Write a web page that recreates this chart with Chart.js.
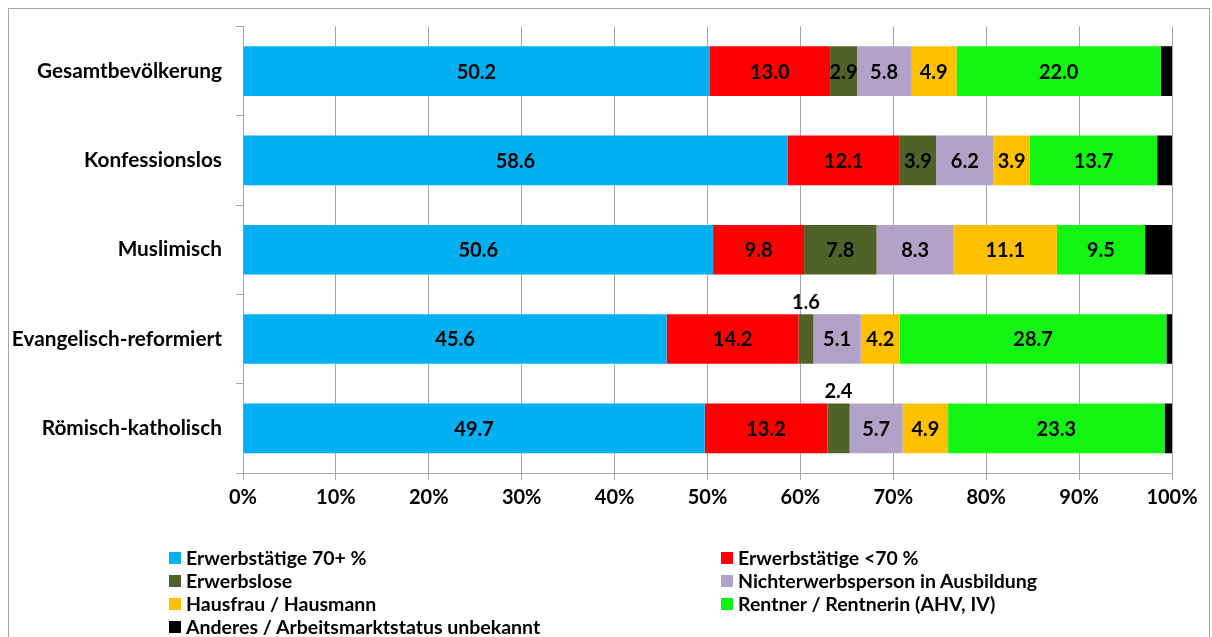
<!DOCTYPE html>
<html>
<head>
<meta charset="utf-8">
<script src="https://cdn.jsdelivr.net/npm/chart.js@4/dist/chart.umd.min.js"></script>
<style>
  html, body { margin: 0; padding: 0; background: #fff; }
  #wrap { position: relative; width: 1212px; height: 637px; overflow: hidden; }
  #frame { position: absolute; left: 8px; top: 8px; width: 1202px; height: 660px; border: 1px solid #a6a6a6; box-sizing: border-box; }
  #chart { position: absolute; left: 0; top: 0; }
  #legend {
    position: absolute; left: 169px; top: 546px;
    display: grid; grid-template-columns: 552px 460px; row-gap: 0;
    font: bold 19.5px Lato, "Open Sans", sans-serif; color: #000;
  }
  #legend .item { display: flex; align-items: center; height: 23px; white-space: nowrap; }
  #legend .box { width: 12px; height: 12px; margin-right: 5px; flex: none; }
</style>
</head>
<body>
<div id="wrap">
  <div id="frame"></div>
  <canvas id="chart" width="1212" height="637"></canvas>
  <div id="legend"></div>
</div>
<script>
const categories = ['Gesamtbevölkerung', 'Konfessionslos', 'Muslimisch', 'Evangelisch-reformiert', 'Römisch-katholisch'];

const seriesNames = [
  'Erwerbstätige 70+ %',
  'Erwerbstätige <70 %',
  'Erwerbslose',
  'Nichterwerbsperson in Ausbildung',
  'Hausfrau / Hausmann',
  'Rentner / Rentnerin (AHV, IV)',
  'Anderes / Arbeitsmarktstatus unbekannt'
];

const erwerb70 = [50.2, 58.6, 50.6, 45.6, 49.7];
const erwerbUnter70 = [13.0, 12.1, 9.8, 14.2, 13.2];
const erwerbslose = [2.9, 3.9, 7.8, 1.6, 2.4];
const ausbildung = [5.8, 6.2, 8.3, 5.1, 5.7];
const hausfrau = [4.9, 3.9, 11.1, 4.2, 4.9];
const rentner = [22.0, 13.7, 9.5, 28.7, 23.3];
const anderes = [1.2, 1.6, 2.9, 0.6, 0.8];

const colors = ['#00b0f0', '#ff0000', '#4f6228', '#b3a2c7', '#ffc000', '#12f512', '#000000'];
const xTicks = [0, 10, 20, 30, 40, 50, 60, 70, 80, 90, 100];

const FONT = 'Lato, "Open Sans", sans-serif';

// value labels: centred in each segment, above the bar when the segment is too narrow
const barLabels = {
  id: 'barLabels',
  afterDatasetsDraw(chart) {
    const ctx = chart.ctx;
    ctx.save();
    ctx.font = 'bold 20px ' + FONT;
    ctx.fillStyle = '#000';
    ctx.textAlign = 'center';
    ctx.textBaseline = 'middle';
    chart.data.datasets.forEach((ds, di) => {
      if (ds.noLabel) return;
      const meta = chart.getDatasetMeta(di);
      meta.data.forEach((bar, i) => {
        const v = ds.data[i];
        const x = (bar.x + bar.base) / 2;
        if (v < 2.5) {
          ctx.fillText(v.toFixed(1), x, bar.y - bar.height / 2 - 12);
        } else {
          ctx.fillText(v.toFixed(1), x, bar.y + 1);
        }
      });
    });
    ctx.restore();
  }
};

const seriesData = [erwerb70, erwerbUnter70, erwerbslose, ausbildung, hausfrau, rentner, anderes];

const chart = new Chart(document.getElementById('chart'), {
  type: 'bar',
  data: {
    labels: categories,
    datasets: seriesData.map((d, i) => ({
      label: seriesNames[i],
      data: d,
      backgroundColor: colors[i],
      borderWidth: 0,
      categoryPercentage: 1,
      barPercentage: 0.556,
      noLabel: i === 6
    }))
  },
  options: {
    indexAxis: 'y',
    responsive: false,
    animation: false,
    layout: { padding: { top: 21, right: 40, left: 0, bottom: 0 } },
    plugins: {
      legend: { display: false },
      tooltip: { enabled: false }
    },
    scales: {
      x: {
        stacked: true,
        min: 0,
        max: 100,
        afterBuildTicks(scale) {
          scale.ticks = xTicks.map(v => ({ value: v }));
        },
        afterFit(scale) { scale.height = 164; },
        grid: { color: '#a6a6a6', lineWidth: 1, tickLength: 7, drawTicks: true },
        border: { color: '#a6a6a6' },
        ticks: {
          padding: 6,
          color: '#000',
          font: { family: FONT, size: 20, weight: 'bold' },
          callback: v => v + '%'
        }
      },
      y: {
        stacked: true,
        afterFit(scale) { scale.width = 243; },
        grid: { drawOnChartArea: false, color: '#a6a6a6', tickLength: 7, offset: true },
        border: { color: '#a6a6a6' },
        ticks: {
          padding: 14,
          color: '#000',
          font: { family: FONT, size: 20.8, weight: 'bold' }
        }
      }
    }
  },
  plugins: [barLabels]
});

// legend in two columns built from the datasets
const legendEl = document.getElementById('legend');
chart.data.datasets.forEach(ds => {
  const item = document.createElement('div');
  item.className = 'item';
  const box = document.createElement('span');
  box.className = 'box';
  box.style.background = ds.backgroundColor;
  const txt = document.createElement('span');
  txt.textContent = ds.label;
  item.appendChild(box);
  item.appendChild(txt);
  legendEl.appendChild(item);
});
</script>
</body>
</html>
